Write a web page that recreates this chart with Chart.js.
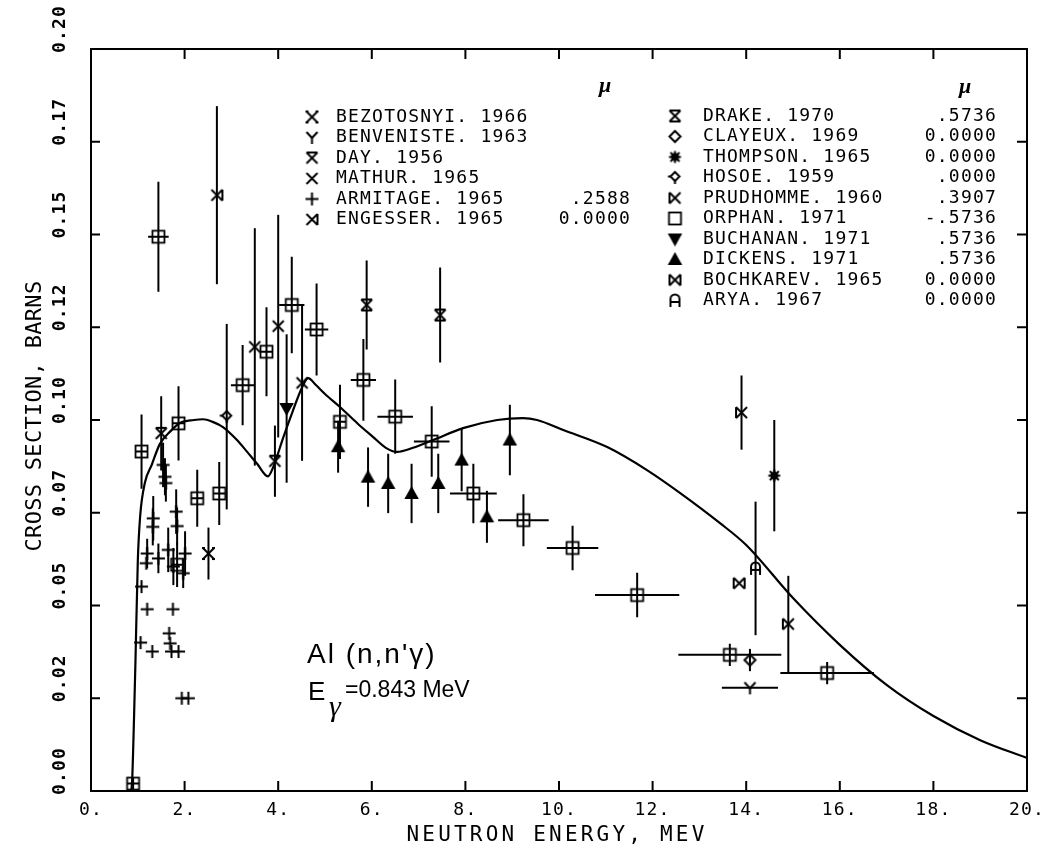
<!DOCTYPE html>
<html>
<head>
<meta charset="utf-8">
<script src="https://cdn.jsdelivr.net/npm/chart.js@4.4.1/dist/chart.umd.min.js"></script>
<style>
  html, body { margin: 0; background: #fff; }
</style>
</head>
<body>
<canvas id="chart" width="1054" height="851"></canvas>
<script>
const MONO = '"DejaVu Sans Mono", monospace';

// evaluated curve
const curveE = [0.86, 0.88, 0.92, 0.95, 1.0, 1.05, 1.15, 1.3, 1.47, 1.7, 1.9, 2.2, 2.4, 2.6, 2.82, 3.12, 3.35, 3.55, 3.78, 3.9, 4.1, 4.3, 4.5, 4.64, 4.8, 5.0, 5.32, 5.7, 6.03, 6.3, 6.54, 6.88, 7.31, 7.95, 8.68, 9.23, 9.53, 10.09, 11.03, 11.88, 12.59, 13.44, 14.0, 15.0, 16.0, 17.0, 18.0, 19.0, 20.0];
const curveS = [0.0, 0.003, 0.02, 0.035, 0.062, 0.074, 0.083, 0.088, 0.0935, 0.097, 0.0992, 0.1, 0.1002, 0.0995, 0.0981, 0.0946, 0.0912, 0.0882, 0.0848, 0.0875, 0.095, 0.102, 0.1085, 0.1113, 0.1095, 0.107, 0.1035, 0.099, 0.0954, 0.0925, 0.0914, 0.0925, 0.0946, 0.0978, 0.1, 0.1005, 0.1, 0.0973, 0.0927, 0.0865, 0.0803, 0.0722, 0.0663, 0.052, 0.0394, 0.0286, 0.0202, 0.0137, 0.0089];

// measurements: energy (MeV), cross section (b), errors
const bezotE = [2.51];
const bezotS = [0.064];
const bezotDS = [0.007];

const benvenisteE = [14.08];
const benvenisteS = [0.0278];
const benvenisteDE = [0.6];

const dayE = [1.50, 3.93];
const dayS = [0.0964, 0.0889];
const dayDS = [0.01, 0.0096];

const mathurE = [3.50, 4.00, 4.51];
const mathurS = [0.1197, 0.1253, 0.110];
const mathurDS = [0.032, 0.03, 0.021];

const armitageE = [1.08, 1.20, 1.06, 1.31, 1.18, 1.20, 1.44, 1.32, 1.33, 1.75, 1.67, 1.69, 1.72, 1.87, 1.94, 2.08, 1.82, 1.84, 1.65, 1.76, 1.97, 2.01, 1.54, 1.58, 1.60];
const armitageS = [0.0551, 0.049, 0.040, 0.0376, 0.0614, 0.064, 0.0627, 0.0712, 0.0735, 0.049, 0.0425, 0.0398, 0.0376, 0.0376, 0.025, 0.025, 0.0753, 0.0714, 0.065, 0.0605, 0.0587, 0.064, 0.0879, 0.0847, 0.083];
const armitageDS = [0, 0, 0, 0, 0, 0.004, 0.004, 0.005, 0.006, 0, 0, 0, 0, 0, 0, 0, 0.006, 0.005, 0.006, 0.005, 0.004, 0.006, 0.006, 0.005, 0.005];

const engesserE = [2.69];
const engesserS = [0.1606];
const engesserDS = [0.024];

const drakeE = [5.89, 7.46];
const drakeS = [0.131, 0.1283];
const drakeDS = [0.012, 0.0128];

const clayeuxE = [14.08];
const clayeuxS = [0.0353];
const clayeuxDS = [0.003];

const thompsonE = [14.6];
const thompsonS = [0.085];
const thompsonDS = [0.015];

const hosoeE = [2.90];
const hosoeS = [0.1009];
const hosoeDS = [0.025];

const prudhommeE = [13.9, 14.9];
const prudhommeS = [0.102, 0.045];
const prudhommeDS = [0.01, 0.013];

const orphanE = [0.90, 1.08, 1.44, 1.84, 1.87, 2.27, 2.74, 3.24, 3.75, 4.29, 4.82, 5.32, 5.82, 6.50, 7.28, 8.17, 9.24, 10.29, 11.67, 13.65, 15.73];
const orphanS = [0.002, 0.0915, 0.1494, 0.061, 0.0991, 0.0789, 0.0802, 0.1094, 0.1184, 0.131, 0.1244, 0.0995, 0.1108, 0.1009, 0.0942, 0.0802, 0.073, 0.0655, 0.0528, 0.0367, 0.0318];
const orphanDS = [0, 0.01, 0.0148, 0.006, 0.01, 0.0077, 0.0085, 0.0108, 0.012, 0.013, 0.0124, 0.01, 0.011, 0.01, 0.0095, 0.008, 0.007, 0.006, 0.006, 0.003, 0.003];
const orphanDE = [0, 0, 0.22, 0, 0.1, 0, 0, 0.25, 0, 0.27, 0.25, 0, 0.27, 0.38, 0.38, 0.5, 0.54, 0.55, 0.9, 1.1, 1.0];

const buchananE = [4.18];
const buchananS = [0.1031];
const buchananDS = [0.02];

const dickensE = [5.28, 5.92, 6.35, 6.85, 7.42, 7.92, 8.46, 8.95];
const dickensS = [0.0928, 0.0846, 0.0829, 0.0802, 0.0829, 0.0892, 0.0739, 0.0946];
const dickensDS = [0.007, 0.008, 0.008, 0.008, 0.008, 0.0084, 0.007, 0.0095];

const bochkarevE = [13.85];
const bochkarevS = [0.056];

const aryaE = [14.2];
const aryaS = [0.06];
const aryaDS = [0.018];

const xTicks = [0, 2, 4, 6, 8, 10, 12, 14, 16, 18, 20];

// plotter style symbols
function sym(draw) {
  const c = document.createElement('canvas');
  c.width = c.height = 17;
  const g = c.getContext('2d');
  g.strokeStyle = '#000';
  g.fillStyle = '#000';
  g.lineWidth = 2;
  draw(g);
  return c;
}
function seg(g, pts) {
  g.beginPath();
  g.moveTo(pts[0], pts[1]);
  for (let i = 2; i < pts.length; i += 2) g.lineTo(pts[i], pts[i + 1]);
  g.stroke();
}
const cross = g => { seg(g, [3, 3, 14, 14]); seg(g, [14, 3, 3, 14]); };
const SYM = {
  bezot: sym(g => { cross(g); seg(g, [2, 3, 5, 3]); seg(g, [12, 3, 15, 3]); seg(g, [2, 14, 5, 14]); seg(g, [12, 14, 15, 14]); }),
  benveniste: sym(g => { seg(g, [3, 3, 8.5, 9]); seg(g, [14, 3, 8.5, 9]); seg(g, [8.5, 9, 8.5, 15]); }),
  day: sym(g => { cross(g); seg(g, [3, 3, 14, 3]); }),
  mathur: sym(g => cross(g)),
  armitage: sym(g => { seg(g, [8.5, 2, 8.5, 15]); seg(g, [2, 8.5, 15, 8.5]); }),
  engesser: sym(g => { cross(g); seg(g, [14, 3, 14, 14]); }),
  drake: sym(g => { cross(g); seg(g, [3, 3, 14, 3]); seg(g, [3, 14, 14, 14]); }),
  clayeux: sym(g => { g.beginPath(); g.moveTo(8.5, 3); g.lineTo(14, 8.5); g.lineTo(8.5, 14); g.lineTo(3, 8.5); g.closePath(); g.stroke(); }),
  thompson: sym(g => { g.beginPath(); g.arc(8.5, 8.5, 4, 0, Math.PI * 2); g.fill(); seg(g, [8.5, 2.5, 8.5, 14.5]); seg(g, [2.5, 8.5, 14.5, 8.5]); seg(g, [4, 4, 13, 13]); seg(g, [13, 4, 4, 13]); }),
  hosoe: sym(g => { g.beginPath(); g.moveTo(8.5, 3); g.lineTo(13, 7.5); g.lineTo(8.5, 12); g.lineTo(4, 7.5); g.closePath(); g.stroke(); seg(g, [4, 7.5, 1.5, 7.5]); seg(g, [8.5, 12, 8.5, 15]); }),
  prudhomme: sym(g => { cross(g); seg(g, [3, 3, 3, 14]); }),
  orphan: sym(g => { g.lineWidth = 1.8; g.strokeRect(2.5, 2.5, 12, 12); }),
  buchanan: sym(g => { g.beginPath(); g.moveTo(3, 4); g.lineTo(14, 4); g.lineTo(8.5, 14); g.closePath(); g.stroke(); g.fill(); seg(g, [2, 4, 15, 4]); }),
  dickens: sym(g => { g.beginPath(); g.moveTo(3, 13); g.lineTo(14, 13); g.lineTo(8.5, 3); g.closePath(); g.stroke(); g.fill(); seg(g, [2, 13, 15, 13]); }),
  bochkarev: sym(g => { cross(g); seg(g, [3, 3, 3, 14]); seg(g, [14, 3, 14, 14]); }),
  arya: sym(g => { g.beginPath(); g.moveTo(4, 15); g.lineTo(4, 7); g.arc(8.5, 7, 4.5, Math.PI, 0); g.lineTo(13, 15); g.stroke(); seg(g, [4, 10, 13, 10]); })
};

function pts(xs, ys) {
  return xs.map((x, i) => ({ x: x, y: ys[i] }));
}
function series(label, mu, key, xs, ys, dy, dx) {
  return {
    label: label,
    mu: mu,
    data: pts(xs, ys),
    errY: dy || [],
    errX: dx || [],
    pointStyle: SYM[key],
    symbol: SYM[key],
    pointRadius: 7,
    showLine: false
  };
}

const col1 = [
  series('BEZOTOSNYI. 1966', '', 'bezot', bezotE, bezotS, bezotDS),
  series('BENVENISTE. 1963', '', 'benveniste', benvenisteE, benvenisteS, null, benvenisteDE),
  series('DAY. 1956', '', 'day', dayE, dayS, dayDS),
  series('MATHUR. 1965', '', 'mathur', mathurE, mathurS, mathurDS),
  series('ARMITAGE. 1965', '.2588', 'armitage', armitageE, armitageS, armitageDS),
  series('ENGESSER. 1965', '0.0000', 'engesser', engesserE, engesserS, engesserDS)
];
const col2 = [
  series('DRAKE. 1970', '.5736', 'drake', drakeE, drakeS, drakeDS),
  series('CLAYEUX. 1969', '0.0000', 'clayeux', clayeuxE, clayeuxS, clayeuxDS),
  series('THOMPSON. 1965', '0.0000', 'thompson', thompsonE, thompsonS, thompsonDS),
  series('HOSOE. 1959', '.0000', 'hosoe', hosoeE, hosoeS, hosoeDS),
  series('PRUDHOMME. 1960', '.3907', 'prudhomme', prudhommeE, prudhommeS, prudhommeDS),
  series('ORPHAN. 1971', '-.5736', 'orphan', orphanE, orphanS, orphanDS, orphanDE),
  series('BUCHANAN. 1971', '.5736', 'buchanan', buchananE, buchananS, buchananDS),
  series('DICKENS. 1971', '.5736', 'dickens', dickensE, dickensS, dickensDS),
  series('BOCHKAREV. 1965', '0.0000', 'bochkarev', bochkarevE, bochkarevS),
  series('ARYA. 1967', '0.0000', 'arya', aryaE, aryaS, aryaDS)
];

const curve = {
  label: 'curve',
  data: pts(curveE, curveS),
  showLine: true,
  pointRadius: 0,
  borderColor: '#000',
  borderWidth: 2.2,
  cubicInterpolationMode: 'monotone',
  order: 1
};

// error bars through the scales
const errorBars = {
  id: 'errorBars',
  beforeDatasetsDraw(chart) {
    const ctx = chart.ctx, xs = chart.scales.x, ys = chart.scales.y;
    ctx.save();
    ctx.strokeStyle = '#000';
    ctx.lineWidth = 2;
    chart.data.datasets.forEach(ds => {
      if (!ds.errY) return;
      ds.data.forEach((p, i) => {
        const px = xs.getPixelForValue(p.x), py = ys.getPixelForValue(p.y);
        const dy = ds.errY[i] || 0, dx = ds.errX[i] || 0;
        ctx.beginPath();
        if (dy) {
          ctx.moveTo(px, ys.getPixelForValue(p.y + dy));
          ctx.lineTo(px, ys.getPixelForValue(p.y - dy));
        }
        if (dx) {
          ctx.moveTo(xs.getPixelForValue(p.x - dx), py);
          ctx.lineTo(xs.getPixelForValue(p.x + dx), py);
        }
        if (ds.symbol === SYM.orphan) {
          ctx.moveTo(px, py - 6);
          ctx.lineTo(px, py + 6);
          ctx.moveTo(px - 6, py);
          ctx.lineTo(px + 6, py);
        }
        ctx.stroke();
      });
    });
    ctx.restore();
  }
};

// box, inward ticks, titles, legend and notes
const decor = {
  id: 'decor',
  beforeDraw(chart) {
    chart.ctx.letterSpacing = '1.2px';
  },
  afterDraw(chart) {
    const ctx = chart.ctx, a = chart.chartArea, xs = chart.scales.x, ys = chart.scales.y;
    ctx.save();
    ctx.letterSpacing = '0px';
    ctx.strokeStyle = '#000';
    ctx.lineWidth = 2;
    ctx.strokeRect(a.left, a.top, a.right - a.left, a.bottom - a.top);
    ctx.beginPath();
    xs.ticks.forEach(t => {
      const px = xs.getPixelForValue(t.value);
      ctx.moveTo(px, a.bottom); ctx.lineTo(px, a.bottom - 10);
      ctx.moveTo(px, a.top); ctx.lineTo(px, a.top + 10);
    });
    ys.ticks.forEach(t => {
      const py = ys.getPixelForValue(t.value);
      ctx.moveTo(a.left, py); ctx.lineTo(a.left + 9, py);
      ctx.moveTo(a.right, py); ctx.lineTo(a.right - 10, py);
    });
    ctx.stroke();

    ctx.fillStyle = '#000';
    ctx.textBaseline = 'middle';
    ctx.textAlign = 'center';
    ctx.font = '21px ' + MONO;
    ctx.letterSpacing = '3.2px';
    ctx.fillText('NEUTRON ENERGY, MEV', 557, 836);
    ctx.save();
    ctx.translate(35, 416);
    ctx.rotate(-Math.PI / 2);
    ctx.font = '22px ' + MONO;
    ctx.letterSpacing = '0.3px';
    ctx.fillText('CROSS SECTION, BARNS', 0, 0);
    ctx.restore();

    // legend
    const drawCol = (list, symX, textX, muX, y0) => {
      ctx.font = '18px ' + MONO;
      ctx.letterSpacing = '1.2px';
      list.forEach((ds, i) => {
        const y = y0 + i * 20.5;
        ctx.drawImage(ds.symbol, symX - 8.5, y - 8.5);
        ctx.textAlign = 'left';
        ctx.fillText(ds.label, textX, y);
        if (ds.mu) {
          ctx.textAlign = 'right';
          ctx.fillText(ds.mu, muX, y);
        }
      });
    };
    drawCol(col1, 312, 336, 631, 117);
    drawCol(col2, 675, 703, 997, 116);
    ctx.letterSpacing = '0px';
    ctx.textAlign = 'center';
    ctx.font = 'italic bold 22px "Liberation Serif", serif';
    ctx.fillText('\u03bc', 605, 86);
    ctx.fillText('\u03bc', 965, 87);

    // reaction note
    ctx.textAlign = 'left';
    ctx.textBaseline = 'alphabetic';
    ctx.font = '28px "Liberation Sans", sans-serif';
    ctx.letterSpacing = '2px';
    ctx.fillText("Al (n,n'\u03b3)", 307, 663);
    ctx.font = '26px "Liberation Sans", sans-serif';
    ctx.letterSpacing = '0px';
    ctx.fillText('E', 308, 700);
    ctx.font = '23px "Liberation Sans", sans-serif';
    ctx.fillText('=0.843 MeV', 345, 697);
    ctx.font = 'italic 30px "Liberation Serif", serif';
    ctx.fillText('\u03b3', 329, 716);
    ctx.restore();
    ctx.letterSpacing = '0px';
  }
};

new Chart(document.getElementById('chart'), {
  type: 'scatter',
  data: { datasets: [curve].concat(col1, col2) },
  options: {
    responsive: false,
    animation: false,
    events: [],
    layout: { padding: { left: 0, right: 27, top: 49, bottom: 0 } },
    plugins: { legend: { display: false }, tooltip: { enabled: false } },
    scales: {
      x: {
        type: 'linear',
        min: 0,
        max: 20,
        afterFit: s => { s.height = 60; },
        grid: { display: false },
        border: { display: false },
        afterBuildTicks: s => { s.ticks = xTicks.map(v => ({ value: v })); },
        ticks: {
          color: '#000',
          font: { family: MONO, size: 18 },
          padding: 1,
          maxRotation: 0,
          callback: v => v + '.'
        }
      },
      y: {
        type: 'linear',
        min: 0,
        max: 0.2,
        afterFit: s => { s.width = 91; },
        grid: { display: false },
        border: { display: false },
        ticks: {
          stepSize: 0.025,
          color: '#000',
          font: { family: MONO, size: 18, weight: 'bold' },
          minRotation: 90,
          maxRotation: 90,
          crossAlign: 'center',
          labelOffset: -20,
          padding: 1,
          callback: v => (Math.floor(v * 100 + 1e-6) / 100).toFixed(2)
        }
      }
    }
  },
  plugins: [errorBars, decor]
});
</script>
</body>
</html>
